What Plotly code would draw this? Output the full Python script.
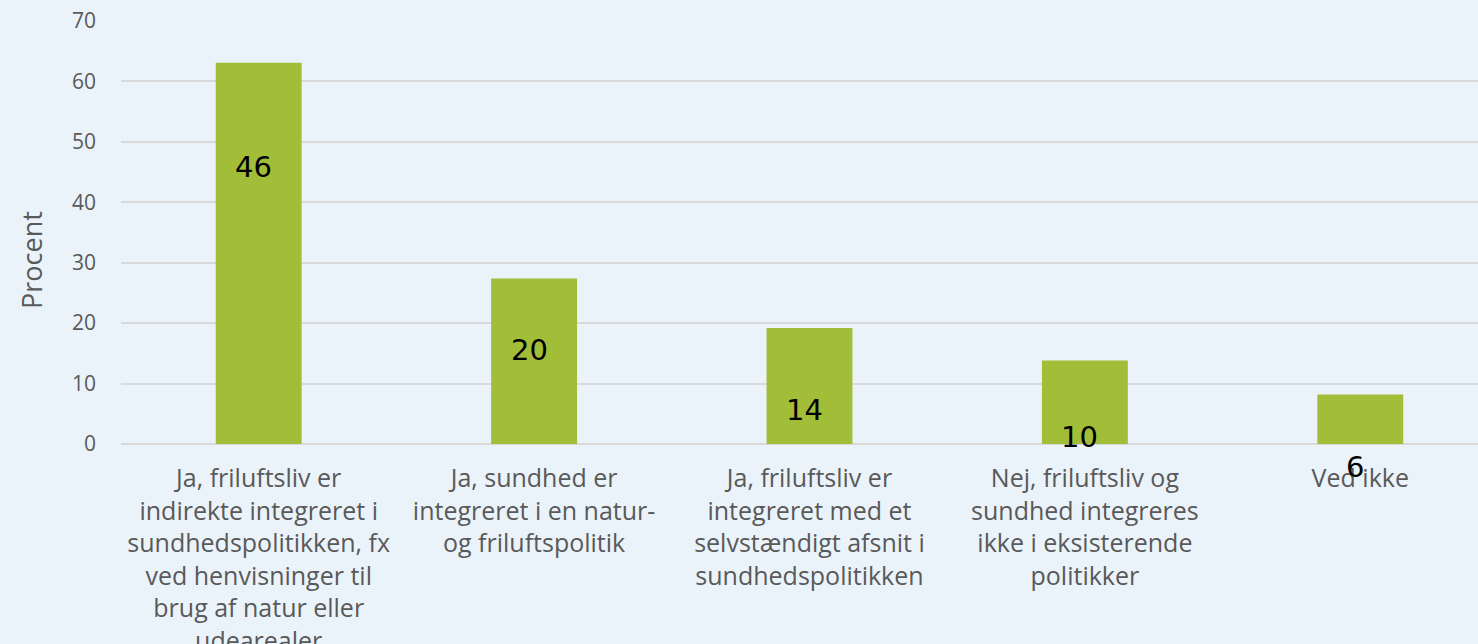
import plotly.graph_objects as go

categories = [
    "Ja, friluftsliv er<br>indirekte integreret i<br>sundhedspolitikken, fx<br>ved henvisninger til<br>brug af natur eller<br>udearealer",
    "Ja, sundhed er<br>integreret i en natur-<br>og friluftspolitik",
    "Ja, friluftsliv er<br>integreret med et<br>selvstændigt afsnit i<br>sundhedspolitikken",
    "Nej, friluftsliv og<br>sundhed integreres<br>ikke i eksisterende<br>politikker",
    "Ved ikke",
]
bar_values = [63.1, 27.4, 19.2, 13.8, 8.2]
label_texts = ["46", "20", "14", "10", "6"]
label_y = [45.9, 15.6, 5.6, 1.2, -3.8]
y_ticks = [0, 10, 20, 30, 40, 50, 60, 70]

BG = "#EBF3FA"
GRID = "#D9D9D9"
TXT = "#595959"
BAR = "#A2BE38"

W, H = 1478, 644
M_L, M_R, M_T, M_B = 121, 0, 21, 200
Y_MAX = 70
px_per_unit = (H - M_T - M_B) / Y_MAX

x_idx = list(range(len(categories)))

fig = go.Figure()
fig.add_trace(go.Bar(
    x=x_idx,
    y=bar_values,
    marker=dict(color=BAR, line=dict(width=0)),
    width=0.312,
    hoverinfo="skip",
))

for i, (t, v) in enumerate(zip(label_texts, label_y)):
    fig.add_annotation(
        x=i, y=max(v, 0.001), xref="x", yref="y",
        yshift=min(v, 0) * px_per_unit, xshift=-5,
        text=t, showarrow=False,
        font=dict(family="DejaVu Sans", size=29, color="#000000"),
    )

fig.add_annotation(
    text="Procent", textangle=-90, showarrow=False,
    xref="paper", yref="paper", x=-0.0656, y=0.435,
    xanchor="center", yanchor="middle",
    font=dict(family="Open Sans", size=27, color=TXT),
)

fig.update_layout(
    width=W, height=H,
    margin=dict(l=M_L, r=M_R, t=M_T, b=M_B, autoexpand=False),
    paper_bgcolor=BG, plot_bgcolor=BG,
    showlegend=False,
    font=dict(family="Open Sans", color=TXT),
)
fig.update_xaxes(
    tickmode="array",
    tickvals=x_idx,
    ticktext=categories,
    range=[-0.5, 4.4275],
    showgrid=False, zeroline=False, showline=False,
    tickfont=dict(family="Open Sans", size=25, color=TXT),
    ticks="", ticklabelstandoff=17,
    automargin=False,
)
fig.update_yaxes(
    range=[0, Y_MAX],
    tickvals=y_ticks,
    showgrid=True, gridcolor=GRID, gridwidth=2,
    zeroline=True, zerolinecolor=GRID, zerolinewidth=2,
    showline=False,
    tickfont=dict(family="Open Sans", size=21, color=TXT),
    ticklabelstandoff=24,
    automargin=False,
)

fig.write_html("out.html", config={"displayModeBar": False},
               post_script="document.body.style.margin='0';")
